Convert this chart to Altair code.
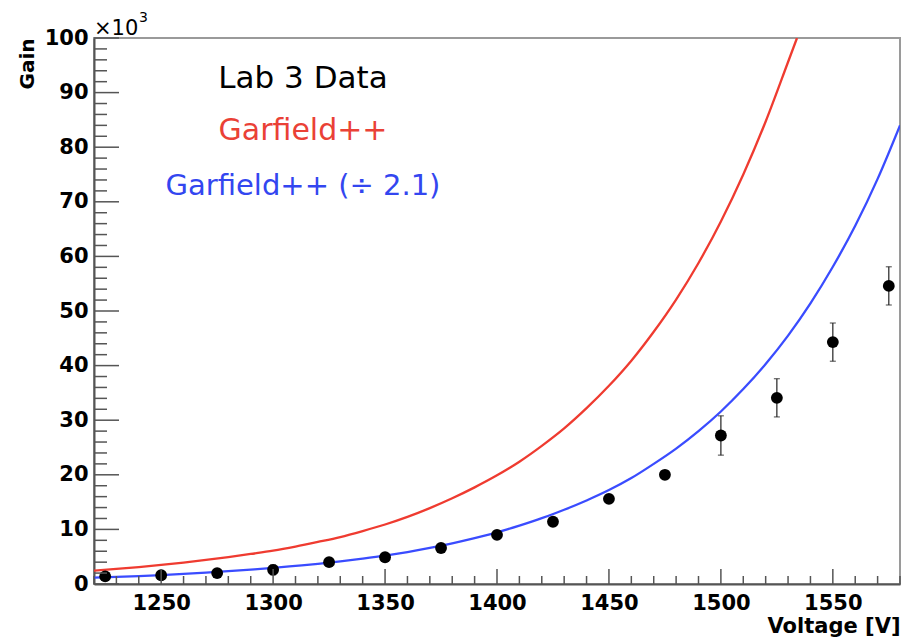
import altair as alt
import pandas as pd

# ---- data ----
voltage = [1225, 1250, 1275, 1300, 1325, 1350, 1375, 1400, 1425, 1450, 1475, 1500, 1525, 1550, 1575]
gain = [1.4, 1.6, 2.0, 2.6, 4.0, 4.9, 6.6, 9.0, 11.4, 15.6, 20.0, 27.2, 34.1, 44.3, 54.6]
gain_err = [0.3, 0.3, 0.3, 0.9, 0.4, 0.4, 0.4, 0.4, 0.5, 0.5, 0.6, 3.6, 3.5, 3.5, 3.5]

red_v = [1220, 1230, 1240, 1250, 1260, 1270, 1280, 1290, 1300, 1310, 1320, 1330, 1340, 1350,
         1360, 1370, 1380, 1390, 1400, 1410, 1420, 1430, 1440, 1450, 1460, 1470, 1480, 1490,
         1500, 1510, 1520, 1530, 1534]
red_g = [2.45, 2.76, 3.10, 3.49, 3.93, 4.40, 4.93, 5.50, 6.10, 6.85, 7.70, 8.60, 9.70, 10.9,
         12.3, 13.9, 15.7, 17.7, 19.9, 22.4, 25.3, 28.5, 32.2, 36.3, 40.9, 46.2, 52.1, 58.8,
         66.4, 75.0, 84.7, 95.6, 100.0]

blue_v = [1220, 1230, 1240, 1250, 1260, 1270, 1280, 1290, 1300, 1310, 1320, 1330, 1340, 1350,
          1360, 1370, 1380, 1390, 1400, 1410, 1420, 1430, 1440, 1450, 1460, 1470, 1480, 1490,
          1500, 1510, 1520, 1530, 1540, 1550, 1560, 1570, 1580]
blue_g = [1.15, 1.30, 1.46, 1.64, 1.85, 2.09, 2.35, 2.64, 2.95, 3.32, 3.70, 4.15, 4.65, 5.20,
          5.85, 6.60, 7.45, 8.40, 9.45, 10.7, 12.05, 13.6, 15.3, 17.2, 19.4, 22.0, 24.8, 28.0,
          31.6, 35.7, 40.3, 45.5, 51.4, 58.1, 65.6, 74.2, 84.0]

x_major = [1250, 1300, 1350, 1400, 1450, 1500, 1550]
x_minor = [v for v in range(1220, 1581, 10) if v not in x_major]
y_major = [0, 10, 20, 30, 40, 50, 60, 70, 80, 90, 100]
y_minor = [v for v in range(2, 100, 2) if v not in y_major]

legend_texts = ["Lab 3 Data", "Garfield++", "Garfield++ (\u00f7 2.1)"]
legend_colors = ["#000000", "#ea4136", "#3346f0"]
exp_texts = ["\u00d710", "3"]

W, H = 806, 546
FONT = "DejaVu Sans"
AX = "#555555"

xs = alt.Scale(domain=[1220, 1580], nice=False, zero=False)
ys = alt.Scale(domain=[0, 100], nice=False, zero=False)

xaxis = alt.Axis(values=x_major, format="d", ticks=False, tickSize=0, grid=False,
                 domainColor=AX, domainWidth=2, labelFont=FONT, labelFontWeight="bold",
                 labelFontSize=21, labelColor="black", labelPadding=8, labelFlush=False,
                 title="Voltage [V]", titleFont=FONT, titleFontWeight="bold", titleFontSize=21,
                 titleColor="black", titleAlign="right", titleBaseline="alphabetic",
                 titleX=W, titleY=48)
yaxis = alt.Axis(values=y_major, format="d", ticks=False, tickSize=0, grid=False,
                 domainColor=AX, domainWidth=2, labelFont=FONT, labelFontWeight="bold",
                 labelFontSize=21, labelColor="black", labelPadding=6, labelFlush=False,
                 title="Gain", titleFont=FONT, titleFontWeight="bold", titleFontSize=20,
                 titleColor="black", titleAngle=270, titleAlign="right",
                 titleBaseline="alphabetic", titleX=-61, titleY=0)


def X(field):
    return alt.X(f"{field}:Q", scale=xs, axis=xaxis)


def Y(field):
    return alt.Y(f"{field}:Q", scale=ys, axis=yaxis)


pts = pd.DataFrame({"v": voltage, "g": gain,
                    "lo": [g - e for g, e in zip(gain, gain_err)],
                    "hi": [g + e for g, e in zip(gain, gain_err)]})
red = pd.DataFrame({"v": red_v, "g": red_g})
blue = pd.DataFrame({"v": blue_v, "g": blue_g})

layers = []

# curves
layers.append(alt.Chart(red).mark_line(color="#ef3b30", strokeWidth=2.3, clip=True,
                                       interpolate="monotone").encode(x=X("v"), y=Y("g")))
layers.append(alt.Chart(blue).mark_line(color="#3a4cff", strokeWidth=2.3, clip=True,
                                        interpolate="monotone").encode(x=X("v"), y=Y("g")))

# error bars
layers.append(alt.Chart(pts).mark_rule(color="#222222", strokeWidth=1.2).encode(
    x=X("v"), y=Y("lo"), y2="hi:Q"))
layers.append(alt.Chart(pts).mark_tick(color="#222222", orient="horizontal", size=6,
                                       thickness=1.2).encode(x=X("v"), y=Y("lo")))
layers.append(alt.Chart(pts).mark_tick(color="#222222", orient="horizontal", size=6,
                                       thickness=1.2).encode(x=X("v"), y=Y("hi")))
# points
layers.append(alt.Chart(pts).mark_circle(color="black", opacity=1, size=140).encode(
    x=X("v"), y=Y("g")))

# inward ticks
xmaj = pd.DataFrame({"v": x_major})
xmin = pd.DataFrame({"v": x_minor})
ymaj = pd.DataFrame({"g": y_major})
ymin = pd.DataFrame({"g": y_minor})
layers.append(alt.Chart(xmaj).mark_rule(color=AX, strokeWidth=1.5).encode(
    x=X("v"), y=alt.value(H), y2=alt.value(H - 15)))
layers.append(alt.Chart(xmin).mark_rule(color=AX, strokeWidth=1.5).encode(
    x=X("v"), y=alt.value(H), y2=alt.value(H - 8)))
layers.append(alt.Chart(ymaj).mark_rule(color=AX, strokeWidth=1.5).encode(
    y=Y("g"), x=alt.value(0), x2=alt.value(25)))
layers.append(alt.Chart(ymin).mark_rule(color=AX, strokeWidth=1.5).encode(
    y=Y("g"), x=alt.value(0), x2=alt.value(13)))

# legend texts
leg_y = [50, 102, 157]
leg_size = [31, 30, 29]
for t, c, yy, fs in zip(legend_texts, legend_colors, leg_y, leg_size):
    layers.append(alt.Chart(pd.DataFrame({"t": [t]})).mark_text(
        font=FONT, fontSize=fs, color=c, align="center", baseline="alphabetic").encode(
        x=alt.value(209), y=alt.value(yy), text="t:N"))

# x10^3 exponent label
layers.append(alt.Chart(pd.DataFrame({"t": [exp_texts[0]]})).mark_text(
    font=FONT, fontSize=21, color="black", align="left", baseline="alphabetic").encode(
    x=alt.value(0), y=alt.value(-3), text="t:N"))
layers.append(alt.Chart(pd.DataFrame({"t": [exp_texts[1]]})).mark_text(
    font=FONT, fontSize=14, color="black", align="left", baseline="alphabetic").encode(
    x=alt.value(45), y=alt.value(-16), text="t:N"))

chart = alt.layer(*layers).properties(
    width=W, height=H,
    autosize=alt.AutoSizeParams(type="none"),
    padding={"left": 86, "top": 30, "right": 7, "bottom": 56},
    background="white",
).configure_view(stroke="#9a9a9a", strokeWidth=2)

chart.save("out.html", embed_options={"renderer": "svg", "actions": False})
